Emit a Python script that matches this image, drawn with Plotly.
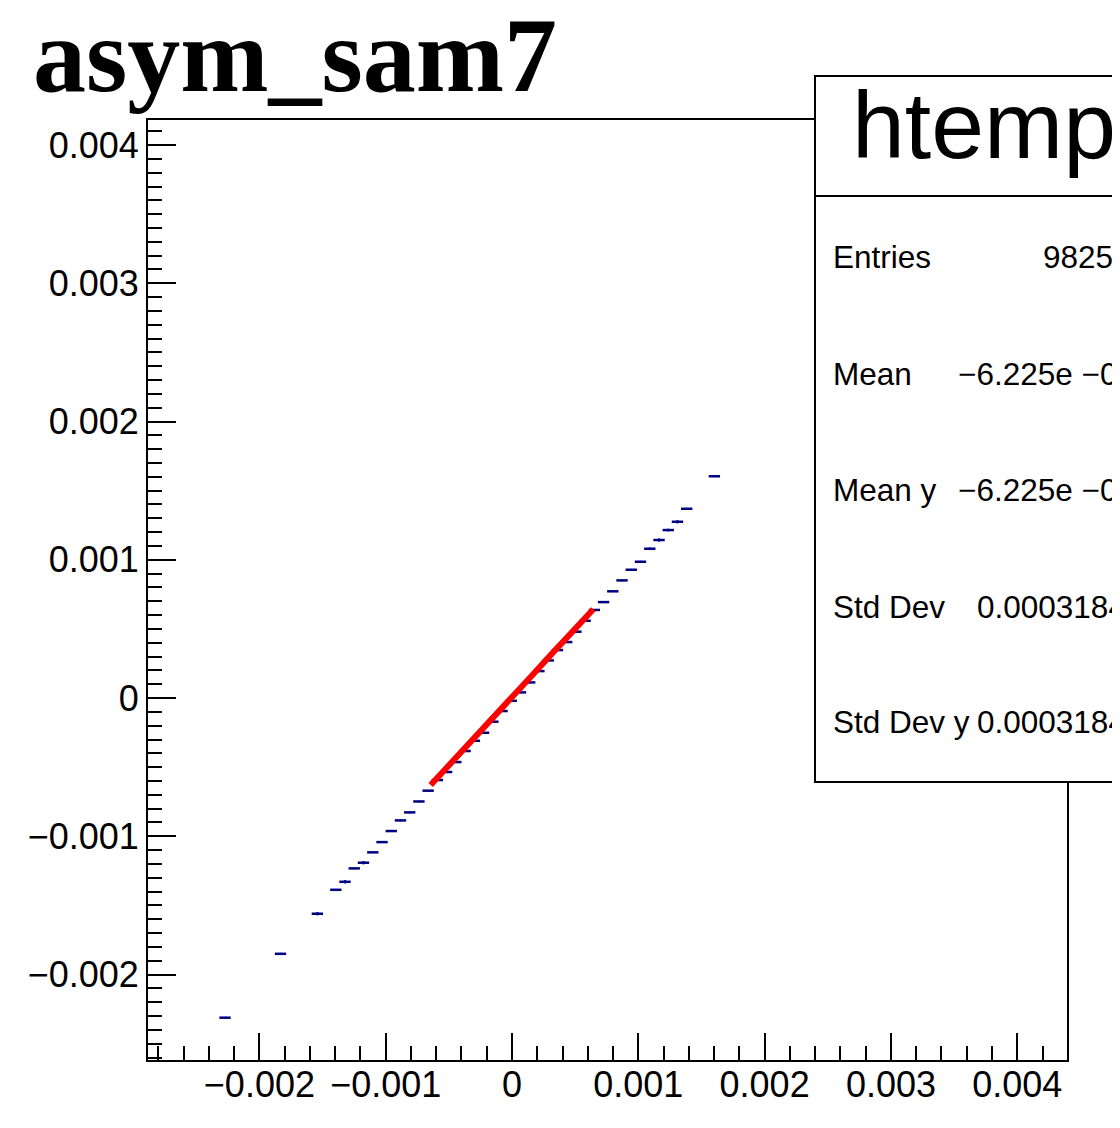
import plotly.graph_objects as go

# ---- data ----
prof_x = [-0.002272, -0.001833, -0.001541, -0.001395, -0.001322, -0.001249, -0.001176,
          -0.001102, -0.001029, -0.000956, -0.000883, -0.000810, -0.000737, -0.000664,
          -0.000591, -0.000518, -0.000445, -0.000371, -0.000298, -0.000225, -0.000152,
          -0.000079, -0.000006, 0.000067, 0.000140, 0.000213, 0.000287, 0.000360,
          0.000433, 0.000506, 0.000579, 0.000652, 0.000725, 0.000798, 0.000871,
          0.000944, 0.001017, 0.001091, 0.001164, 0.001237, 0.001310, 0.001383, 0.001602]
prof_y = [-0.002312, -0.001850, -0.001560, -0.001387, -0.001329, -0.001232, -0.001191,
          -0.001116, -0.001042, -0.000962, -0.000885, -0.000827, -0.000748, -0.000670,
          -0.000593, -0.000535, -0.000463, -0.000383, -0.000309, -0.000251, -0.000171,
          -0.000094, -0.000020, 0.000041, 0.000113, 0.000195, 0.000272, 0.000347,
          0.000405, 0.000480, 0.000559, 0.000637, 0.000694, 0.000772, 0.000851,
          0.000928, 0.000986, 0.001080, 0.001143, 0.001215, 0.001275, 0.001369, 0.001604]
prof_ey = [0, 0, 0.000012, 0, 0.000012, 0, 0.000012,
           0, 0, 0, 0, 0, 0, 0,
           0, 0, 0, 0, 0, 0, 0,
           0, 0, 0, 0, 0, 0, 0,
           0, 0, 0, 0, 0, 0, 0,
           0, 0, 0.000010, 0.000012, 0.000010, 0.000012, 0, 0]
bin_half_width = 0.000045

red_x = [-0.000644, -0.000480, -0.000320, -0.000160, 0.000000, 0.000160, 0.000320, 0.000480, 0.000644]
red_y = [-0.000629, -0.000470, -0.000312, -0.000152, 0.000005, 0.000165, 0.000325, 0.000484, 0.000642]

x_range = [-0.002882, 0.004394]
y_range = [-0.002618, 0.004181]

title_text = "asym_sam7"
stats_title = "htemp"
stats_labels = ["Entries", "Mean", "Mean y", "Std Dev", "Std Dev y"]
stats_values = ["982560", "\u22126.225e \u221206", "\u22126.225e \u221206", "0.0003184", "0.0003184"]

# ---- layout geometry (page pixels; the page body adds an 8px offset) ----
OFF = 8
W, H = 1120 - OFF, 1128 - OFF
L, R, T, B = 148, 1067, 120, 1060


def px_x(p):
    return (p - L) / (R - L)


def px_y(p):
    return (B - p) / (B - T)


fig = go.Figure()

fig.add_trace(go.Scatter(
    x=prof_x, y=prof_y, mode="markers",
    marker=dict(size=2, color="#000080"),
    error_x=dict(type="constant", value=bin_half_width, color="#000080", thickness=2.5, width=0),
    error_y=dict(type="data", array=prof_ey, color="#000080", thickness=2, width=0),
    showlegend=False, hoverinfo="skip",
))
fig.add_trace(go.Scatter(
    x=red_x, y=red_y, mode="lines",
    line=dict(color="#ff0000", width=6),
    showlegend=False, hoverinfo="skip",
))

axis_common = dict(
    showgrid=False, zeroline=False, showline=True, mirror=True,
    linecolor="black", linewidth=2,
    ticks="inside", tickwidth=2, tickcolor="black",
    tickfont=dict(family="Liberation Sans, Arial, sans-serif", size=36, color="black"),
    dtick=0.001, tick0=0,
)

fig.update_xaxes(range=x_range, ticklen=27, ticklabelstandoff=-8,
                 minor=dict(dtick=0.0002, ticks="inside", ticklen=14, tickwidth=2, tickcolor="black"),
                 **axis_common)
fig.update_yaxes(range=y_range, ticklen=28, ticklabelstandoff=0,
                 minor=dict(dtick=0.0001, ticks="inside", ticklen=14, tickwidth=2, tickcolor="black"),
                 **axis_common)

shapes = [
    dict(type="rect", xref="paper", yref="paper",
         x0=px_x(815), x1=px_x(1140), y0=px_y(782), y1=px_y(76),
         fillcolor="white", line=dict(color="black", width=2), layer="above"),
    dict(type="line", xref="paper", yref="paper",
         x0=px_x(815), x1=px_x(1140), y0=px_y(196), y1=px_y(196),
         line=dict(color="black", width=2), layer="above"),
]

annotations = [
    dict(text="<b>" + title_text + "</b>", xref="paper", yref="paper",
         x=px_x(31), y=px_y(55), xanchor="left", yanchor="middle", showarrow=False,
         font=dict(family="Liberation Serif, Times New Roman, serif", size=106, color="black")),
    dict(text=stats_title, xref="paper", yref="paper",
         x=px_x(850), y=px_y(125), xanchor="left", yanchor="middle", showarrow=False,
         font=dict(family="Liberation Sans, Arial, sans-serif", size=95, color="black")),
]
row_y = [257, 374, 490, 607, 722]
value_x = [1043, 958, 958, 977, 977]
for lab, val, ry, vx in zip(stats_labels, stats_values, row_y, value_x):
    annotations.append(dict(text=lab, xref="paper", yref="paper", x=px_x(831), y=px_y(ry),
                            xanchor="left", yanchor="middle", showarrow=False,
                            font=dict(family="Liberation Sans, Arial, sans-serif", size=31.5, color="black")))
    annotations.append(dict(text=val, xref="paper", yref="paper", x=px_x(vx - 2), y=px_y(ry),
                            xanchor="left", yanchor="middle", showarrow=False,
                            font=dict(family="Liberation Sans, Arial, sans-serif", size=31.5, color="black")))

fig.update_layout(
    width=W, height=H,
    margin=dict(l=L - OFF, r=W - (R - OFF), t=T - OFF, b=H - (B - OFF), pad=0),
    paper_bgcolor="white", plot_bgcolor="white",
    shapes=shapes, annotations=annotations,
    showlegend=False,
)

fig.write_html("out.html")
